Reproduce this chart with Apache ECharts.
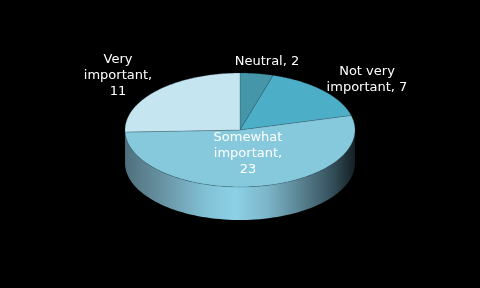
<!DOCTYPE html>
<html><head><meta charset="utf-8">
<script src="https://cdn.jsdelivr.net/npm/echarts@6/dist/echarts.min.js"></script>
<style>html,body{margin:0;padding:0;background:#000}#c{width:480px;height:288px}</style>
</head><body><div id="c"></div>
<script>
const categories = ['Neutral', 'Not very important', 'Somewhat important', 'Very important'];
const values = [2, 7, 23, 11];
const labelTexts = ['Neutral, 2', 'Not very\nimportant, 7', 'Somewhat\nimportant,\n23', 'Very\nimportant,\n11'];
const topColors = ['#4596a9', '#4daec8', '#86c9dd', '#c5e5f0'];

// layout
const CX = 240, CY = 130, RX = 115, RY = 57, DEPTH = 33;
const labelPos = [[267, 62], [367, 80], [248, 154], [118, 76]];

const total = values.reduce((a, b) => a + b, 0);
const starts = [];
let acc = 0;
values.forEach(v => { starts.push(acc / total * 360); acc += v; });
function pt(deg, dy) {
  const r = deg * Math.PI / 180;
  return [CX + RX * Math.sin(r), CY - RY * Math.cos(r) + (dy || 0)];
}
const sideGrad = {
  type: 'linear', x: CX - RX, y: 0, x2: CX + RX, y2: 0, global: true,
  colorStops: [
    { offset: 0, color: '#4f6f7c' },
    { offset: 0.15, color: '#66909f' },
    { offset: 0.35, color: '#82c1d5' },
    { offset: 0.48, color: '#8cd1e7' },
    { offset: 0.62, color: '#7bb5c8' },
    { offset: 0.78, color: '#557c8a' },
    { offset: 0.9, color: '#34505b' },
    { offset: 1, color: '#141f24' }
  ]
};
const data = categories.map((c, i) => ({ name: c, value: values[i] }));

const chart = echarts.init(document.getElementById('c'));
chart.setOption({
  backgroundColor: '#000',
  animation: false,
  series: [
    {
      type: 'custom', coordinateSystem: 'none', silent: true, z: 1, data: data,
      renderItem(params, api) {
        const i = params.dataIndex;
        const a0 = starts[i], a1 = starts[i] + api.value(0) / total * 360;
        const s = Math.max(a0, 90), e = Math.min(a1, 270);
        if (e <= s) return null;
        const pts = [], n = 80;
        for (let k = 0; k <= n; k++) pts.push(pt(s + (e - s) * k / n, 0));
        for (let k = n; k >= 0; k--) pts.push(pt(s + (e - s) * k / n, DEPTH));
        return { type: 'polygon', shape: { points: pts }, style: { fill: sideGrad } };
      }
    },
    {
      type: 'custom', coordinateSystem: 'none', silent: true, z: 2, data: data,
      renderItem(params, api) {
        const i = params.dataIndex;
        const a0 = starts[i], a1 = starts[i] + api.value(0) / total * 360;
        const pts = [[CX, CY]], n = 120;
        for (let k = 0; k <= n; k++) pts.push(pt(a0 + (a1 - a0) * k / n, 0));
        return { type: 'polygon', shape: { points: pts },
          style: { fill: topColors[i], stroke: 'rgba(40,80,90,0.45)', lineWidth: 0.6 } };
      }
    },
    {
      type: 'custom', coordinateSystem: 'none', silent: true, z: 3, data: data,
      renderItem(params, api) {
        const i = params.dataIndex;
        return { type: 'text', style: {
          text: labelTexts[i], x: labelPos[i][0], y: labelPos[i][1],
          fill: '#ffffff', fontSize: 13, fontFamily: 'DejaVu Sans', lineHeight: 16,
          align: 'center', verticalAlign: 'middle'
        } };
      }
    }
  ]
});
</script>
</body></html>
